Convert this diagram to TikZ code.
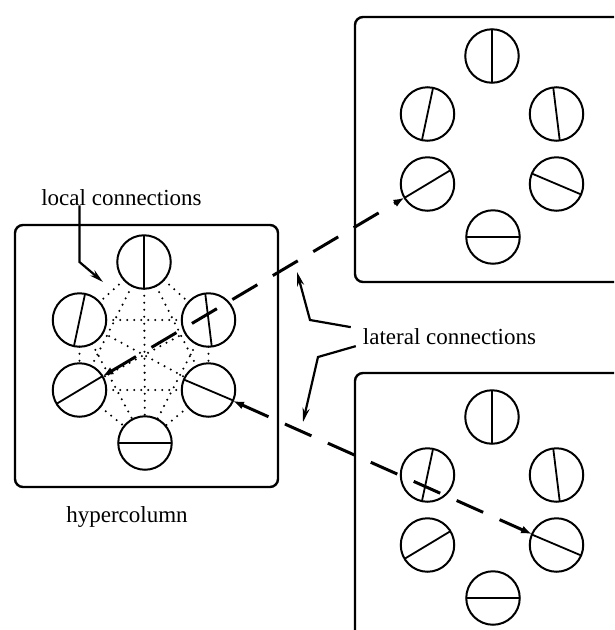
\documentclass[tikz,border=0pt]{standalone}
\usepackage{fontspec}
\setmainfont{Liberation Serif}
\usetikzlibrary{arrows.meta}

\tikzset{
  cell/.style={circle,draw,line width=2pt,minimum size=53.5pt,inner sep=0pt,outer sep=0pt},
  dia/.style={line width=1.8pt},
  boxline/.style={line width=2.4pt,rounded corners=8pt},
  localcon/.style={line width=2.3pt,line cap=round,dash pattern=on 0pt off 7pt},
  lateralcon/.style={line width=3pt,dash pattern=on 29pt off 18pt,
    {Latex[length=11pt,width=8pt]}-{Latex[length=11pt,width=8pt]}},
  leader/.style={line width=2.2pt,-{Stealth[length=14pt,width=7pt]}},
  txt/.style={inner sep=0pt,font=\fontsize{23}{27}\selectfont}
}

\begin{document}
\begin{tikzpicture}[x=1pt,y=-1pt]
\useasboundingbox (0,0) rectangle (614,630);
\clip (0,0) rectangle (614,630);
% Drawing frames
\draw[boxline] (15,225) rectangle (278,487);
\draw[boxline] (355,17) rectangle (630,282);
\draw[boxline] (355,373) rectangle (630,645);
% Drawing cells of the three hypercolumns
\foreach \b/\x/\y in {hc/144/262,up/492/56,dn/492/417}{
  \node[cell] (\b-t) at (\x,\y) {};
  \node[cell] (\b-ul) at (\x-64.5,\y+58) {};
  \node[cell] (\b-ur) at (\x+64.5,\y+58) {};
  \node[cell] (\b-ll) at (\x-64.5,\y+128) {};
  \node[cell] (\b-lr) at (\x+64.5,\y+128) {};
  \node[cell] (\b-b) at (\x+1,\y+181) {};
  % orientation bars
  \draw[dia] (\b-t.90) -- (\b-t.270);
  \draw[dia] (\b-ul.78) -- (\b-ul.258);
  \draw[dia] (\b-ur.97) -- (\b-ur.277);
  \draw[dia] (\b-ll.31) -- (\b-ll.211);
  \draw[dia] (\b-lr.157) -- (\b-lr.337);
  \draw[dia] (\b-b.0) -- (\b-b.180);
}
% Drawing local connections
\foreach \p/\q in {t/ul,t/ur,t/ll,t/lr,t/b,ul/ur,ul/ll,ul/lr,ul/b,ur/ll,ur/lr,ur/b,ll/lr,ll/b,lr/b}
  \draw[localcon] (hc-\p) -- (hc-\q);
% Drawing lateral connections
\draw[lateralcon] (hc-ll) -- (up-ll);
\draw[lateralcon] (hc-lr) -- (dn-lr);
% Done with connections; drawing labels
\node[txt,anchor=base] (loc) at (121.5,205) {local connections};
\node[txt,anchor=base] (lat) at (449.5,344) {lateral connections};
\node[txt,anchor=base] (hyp) at (127,522) {hypercolumn};
\coordinate (loctip) at (103,282);
\coordinate (lattop) at (297,272);
\coordinate (latbot) at (303,422);
\draw[leader] (loc.south -| hc-ul) -- (hc-t -| hc-ul) -- (loctip);
\draw[leader] ([xshift=-12pt,yshift=9pt]lat.west) -- (310,320) -- (lattop);
\draw[leader] ([xshift=-7pt,yshift=-10pt]lat.west) -- (318,357) -- (latbot);
% Done with labels
\end{tikzpicture}
\end{document}
